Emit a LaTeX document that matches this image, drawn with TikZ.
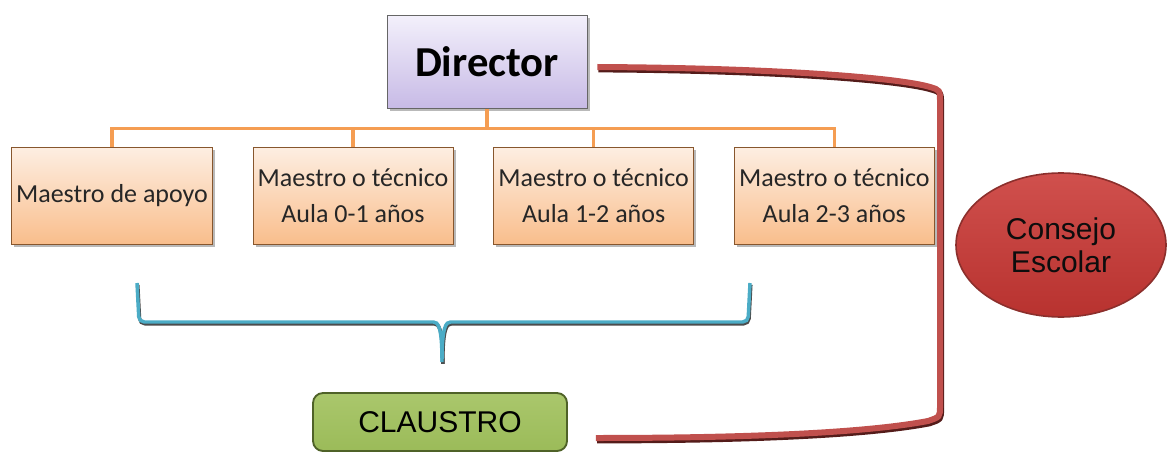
\documentclass[tikz,border=0pt]{standalone}
\usepackage{fontspec}
\setmainfont{Carlito}
\newfontfamily\arialfont{Liberation Sans}
\usepackage{tikz}
\usepackage{xcolor}
\usetikzlibrary{positioning,shapes.geometric,shadows}
\definecolor{lila-top}{HTML}{F3F0FB}
\definecolor{lila-bot}{HTML}{C7BAE6}
\definecolor{naranja-top}{HTML}{FDEEE2}
\definecolor{naranja-bot}{HTML}{F9BE8C}
\definecolor{naranja}{HTML}{F59D52}
\definecolor{verde}{HTML}{9BBB59}
\definecolor{verde-top}{HTML}{AAC76C}
\definecolor{verde-borde}{HTML}{4F6228}
\definecolor{rojo-top}{HTML}{D0504D}
\definecolor{rojo-bot}{HTML}{B8322F}
\definecolor{rojo}{HTML}{C0504D}
\definecolor{rojo-borde}{HTML}{8C2F2C}
\definecolor{aqua}{HTML}{4BACC6}
\begin{document}
\begin{tikzpicture}
[
x=0.75pt, y=-0.75pt,
box-a/.style={rectangle, draw=black!60, line width=0.6pt, top color=lila-top, bottom color=lila-bot, minimum width=150pt, minimum height=70pt, font=\fontsize{32}{38}\selectfont\bfseries, drop shadow={shadow xshift=2pt, shadow yshift=-2pt, opacity=0.55}},
box-b/.style={rectangle, draw=black!45!naranja, line width=0.5pt, top color=naranja-top, bottom color=naranja-bot, minimum width=150pt, minimum height=72.75pt, align=center, text=black!85, font=\fontsize{19.5}{27}\selectfont, drop shadow={shadow xshift=2pt, shadow yshift=-2pt, opacity=0.55}},
box-c/.style={rectangle, rounded corners=7.5pt, draw=verde-borde, line width=1.4pt, top color=verde-top, bottom color=verde, minimum width=190.5pt, minimum height=43.5pt, font=\arialfont\fontsize{22.5}{26}\selectfont},
oval-a/.style={ellipse, draw=rojo-borde, line width=1.2pt, top color=rojo-top, bottom color=rojo-bot, minimum width=157.5pt, minimum height=108pt, inner sep=0pt, align=center, text=black!95, font=\arialfont\fontsize{22.5}{25}\selectfont},
line-a/.style={draw=naranja, line width=2.5pt},
line-b/.style={draw=aqua, line width=2.6pt, rounded corners=4pt, preaction={draw=black!70, line width=2.6pt, transform canvas={shift={(0.6pt,-1.4pt)}}}},
line-c/.style={draw=rojo, line width=4.5pt, preaction={draw=rojo-borde!60!black, line width=4.5pt, transform canvas={shift={(0.8pt,-1.8pt)}}}}
]
\useasboundingbox (0,0) rectangle (1167,453);
\node (director) [box-a] at (487,62)                   {Director};
\node (cell-1)   [box-b] at (112,195.5)                {Maestro de apoyo};
\node (cell-2)   [box-b, right = 30pt of cell-1]       {Maestro o técnico\\Aula 0-1 años};
\node (cell-3)   [box-b, right = 30pt of cell-2]       {Maestro o técnico\\Aula 1-2 años};
\node (cell-4)   [box-b, right = 30pt of cell-3]       {Maestro o técnico\\Aula 2-3 años};
\node (claustro) [box-c] at (440,422)                  {CLAUSTRO};
\node (consejo)  [oval-a] at (1061,245)                {Consejo\\Escolar};
\coordinate (bus) at ([yshift=-14.5pt]director.south);
\coordinate (brace-l)   at (137,283);
\coordinate (brace-r)   at (750,283);
\coordinate (brace-tip) at (442,362);
\draw [line-a] (director) -- (bus);
\foreach \i in {1,...,4}
  \draw [line-a] (bus) -| (cell-\i.north);
\draw [line-b] (brace-l) -- (139,322) -- (428,322) .. controls (438,322) and (442,326) .. (brace-tip);
\draw [line-b] (brace-r) -- (748,322) -- (456,322) .. controls (446,322) and (442,326) .. (brace-tip);
\draw [line-c] ([shift={(10,5)}]director.east) .. controls (780,68) and (900,78) .. (930,87) .. controls (940,90) .. (940,102) -- (940,406) .. controls (940,417) .. (928,421) .. controls (870,432) and (760,438) .. ([shift={(28,16)}]claustro.east);
\end{tikzpicture}
\end{document}
